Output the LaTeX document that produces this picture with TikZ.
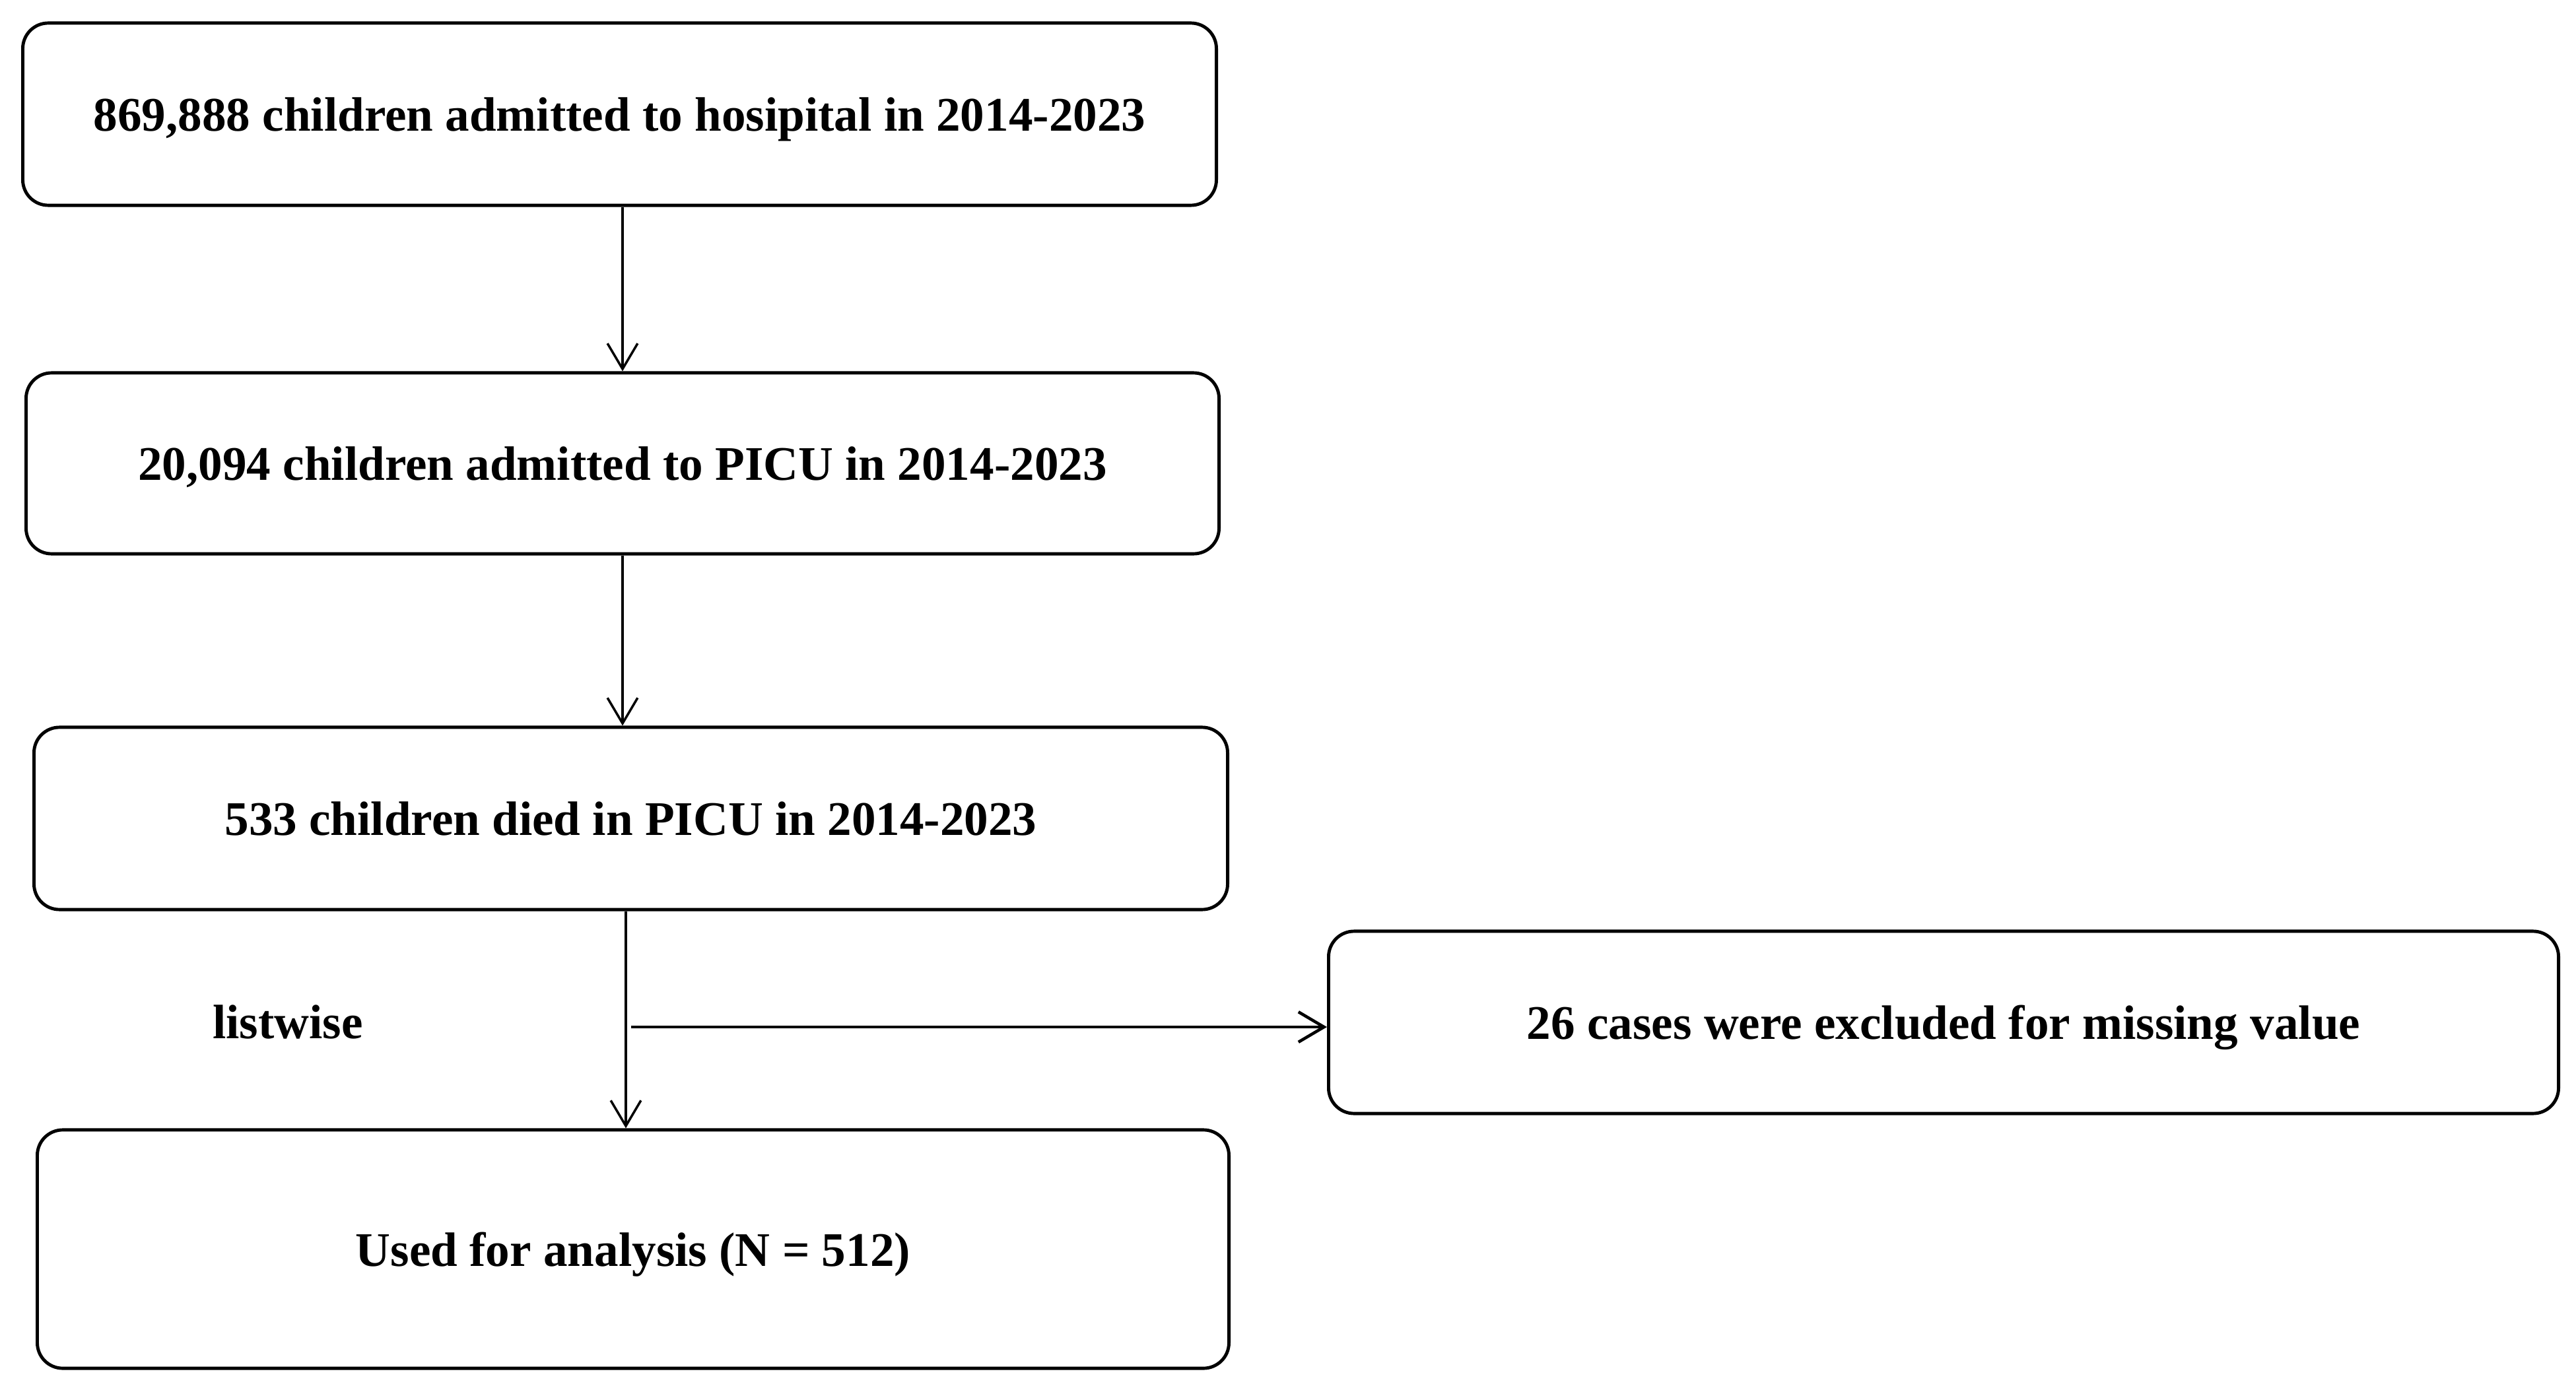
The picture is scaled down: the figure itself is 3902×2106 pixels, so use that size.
\documentclass[tikz,border=0pt]{standalone}
\usepackage{fontspec}
\setmainfont{Liberation Serif}
\usetikzlibrary{arrows.meta}
\begin{document}
\begin{tikzpicture}[x=0.01cm,y=-0.01cm,
  box/.style={draw, line width=1.4pt, rounded corners=11pt, inner sep=0pt,
    font=\fontsize{20.8}{24}\selectfont\bfseries, align=center,
    text depth=0pt},
  lbl/.style={font=\fontsize{20.8}{24}\selectfont\bfseries, inner sep=0pt,
    text depth=0pt},
  arr/.style={line width=0.9pt, -{Straight Barb[length=11pt,width=13pt,line width=1pt]}},
  harr/.style={line width=1.3pt, -{Straight Barb[length=11pt,width=13pt,line width=1.3pt]}},
]
\useasboundingbox (0,0) rectangle (3902,2106);
\node[box, minimum width=18.07cm, minimum height=2.76cm] (a) at (938.5,173) {869,888 children admitted to hosipital in 2014-2023};
\node[box, minimum width=18.06cm, minimum height=2.74cm] (b) at (943,702) {20,094 children admitted to PICU in 2014-2023};
\node[box, minimum width=18.07cm, minimum height=2.76cm] (c) at (955.5,1240) {533 children died in PICU in 2014-2023};
\node[box, minimum width=18.62cm, minimum height=2.76cm] (d) at (2944,1549) {26 cases were excluded for missing value};
\node[box, minimum width=18.04cm, minimum height=3.61cm] (e) at (959,1892.5) {Used for analysis (N = 512)};
\node[lbl] (l) at (436,1548) {listwise};
\coordinate (k) at (948,1556);
\draw[arr] (a.south -| b.north) -- (b.north);
\draw[arr] (b.south) -- (b.south |- c.north);
\draw[arr] (c.south -| k) -- (e.north -| k);
\draw[harr] ([xshift=0.08cm]k) -- (d.west |- k);
\end{tikzpicture}
\end{document}
